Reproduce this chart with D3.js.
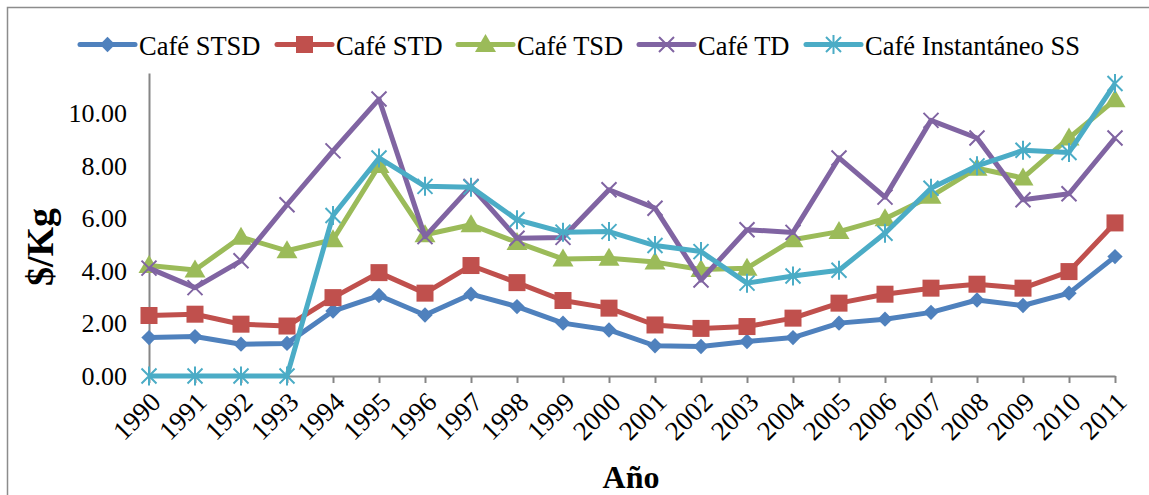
<!DOCTYPE html>
<html><head><meta charset="utf-8">
<script src="https://cdn.jsdelivr.net/npm/d3@7/dist/d3.min.js"></script>
<style>body{margin:0;background:#fff}svg{display:block}svg text{font-family:"Liberation Serif","Times New Roman",serif !important;fill:#000}</style>
</head><body><svg id="c" width="1149" height="495"></svg>
<script>
const years = [1990,1991,1992,1993,1994,1995,1996,1997,1998,1999,2000,2001,2002,2003,2004,2005,2006,2007,2008,2009,2010,2011];
const seriesNames = ["Café STSD","Café STD","Café TSD","Café TD","Café Instantáneo SS"];
const stsd = [1.46,1.50,1.21,1.24,2.47,3.06,2.32,3.11,2.64,2.01,1.75,1.15,1.12,1.31,1.46,2.01,2.16,2.42,2.89,2.68,3.15,4.54];
const std  = [2.30,2.35,1.97,1.90,2.98,3.93,3.15,4.20,3.55,2.87,2.58,1.94,1.81,1.88,2.20,2.77,3.11,3.34,3.49,3.34,3.97,5.82];
const tsd  = [4.20,4.03,5.28,4.76,5.18,8.00,5.37,5.75,5.08,4.45,4.48,4.33,4.05,4.10,5.18,5.49,5.98,6.83,7.90,7.53,9.05,10.50];
const td   = [4.10,3.36,4.38,6.51,8.56,10.53,5.30,7.21,5.24,5.27,7.08,6.38,3.65,5.56,5.46,8.29,6.80,9.72,9.05,6.70,6.93,9.05];
const inst = [0,0,0,0,6.10,8.29,7.21,7.18,5.94,5.47,5.49,4.96,4.73,3.53,3.80,4.02,5.43,7.14,7.99,8.58,8.50,11.12];
const yTicks = [0,2,4,6,8,10];
const colors = ["#4F81BD","#C0504D","#9BBB59","#8064A2","#4BACC6"];
const allSeries = [stsd,std,tsd,td,inst];
const SERIF = '"Liberation Serif","Times New Roman",serif';

const svg = d3.select("#c");
svg.append("path").attr("d","M7.5,500 V7.5 H1160").attr("fill","none").attr("stroke","#8c8c8c").attr("stroke-width",1.5);

const x = d3.scalePoint().domain(years).range([149,1115]);
const y = d3.scaleLinear().domain([0,11.52]).range([376,73]);

// y axis
const ya = svg.append("g").attr("transform","translate(149,0)")
  .call(d3.axisLeft(y).tickValues(yTicks).tickSize(0).tickPadding(22).tickFormat(d3.format(".2f")));
ya.attr("font-family",SERIF);
ya.select(".domain").attr("stroke","#868686").attr("stroke-width",2);
ya.selectAll("text").style("font-size","26px").attr("dy","0.33em");

// x axis
const xa = svg.append("g").attr("transform","translate(0,376)")
  .call(d3.axisBottom(x).tickSize(7).tickSizeOuter(0));
xa.attr("font-family",SERIF);
xa.select(".domain").attr("stroke","#868686").attr("stroke-width",2);
xa.selectAll(".tick line").attr("stroke","#868686").attr("stroke-width",2);
xa.selectAll("text").style("font-size","27px").attr("text-anchor","end")
  .attr("y",0).attr("dy","0.35em")
  .attr("transform","translate(6,21) rotate(-45)");

// axis titles
svg.append("text").attr("x",631).attr("y",488).attr("text-anchor","middle")
  .style("font-family",SERIF).style("font-size","32px").style("font-weight","bold").text("Año");
svg.append("text").attr("transform","translate(53,247) rotate(-90)").attr("text-anchor","middle")
  .style("font-family",SERIF).style("font-size","38px").style("font-weight","bold").text("$/Kg");

function marker(g, i, cx, cy, c){
  if(i===0){
    g.append("path").attr("d",d3.symbol(d3.symbolDiamond2,150)()).attr("transform",`translate(${cx},${cy})`).attr("fill",c);
  } else if(i===1){
    g.append("rect").attr("x",cx-8.5).attr("y",cy-8.5).attr("width",17).attr("height",17).attr("fill",c);
  } else if(i===2){
    g.append("path").attr("d",`M${cx},${cy-10.5} L${cx+10.5},${cy+7.5} L${cx-10.5},${cy+7.5} Z`).attr("fill",c);
  } else if(i===3){
    const r=7.5;
    g.append("path").attr("d",`M${cx-r},${cy-r} L${cx+r},${cy+r} M${cx-r},${cy+r} L${cx+r},${cy-r}`).attr("stroke",c).attr("stroke-width",2).attr("fill","none");
  } else {
    const r=7.5;
    g.append("path").attr("d",`M${cx-r},${cy-r} L${cx+r},${cy+r} M${cx-r},${cy+r} L${cx+r},${cy-r} M${cx},${cy-r-2} L${cx},${cy+r+2}`).attr("stroke",c).attr("stroke-width",2).attr("fill","none");
  }
}

const line = d3.line().x((d,i)=>x(years[i])).y(d=>y(d));
allSeries.forEach((s,i)=>{
  const g = svg.append("g");
  g.append("path").datum(s).attr("d",line).attr("fill","none").attr("stroke",colors[i]).attr("stroke-width",5).attr("stroke-linejoin","round");
  s.forEach((v,j)=>marker(g,i,x(years[j]),y(v),colors[i]));
});

// legend
const legX = [80,277,458,639,806];
seriesNames.forEach((n,i)=>{
  const g = svg.append("g");
  g.append("line").attr("x1",legX[i]).attr("x2",legX[i]+55).attr("y1",44.5).attr("y2",44.5)
    .attr("stroke",colors[i]).attr("stroke-width",5).attr("stroke-linecap","round");
  marker(g,i,legX[i]+27.5,44.5,colors[i]);
  g.append("text").attr("x",legX[i]+59).attr("y",55)
    .style("font-family",SERIF).style("font-size","26.5px").text(n);
});
</script></body></html>
